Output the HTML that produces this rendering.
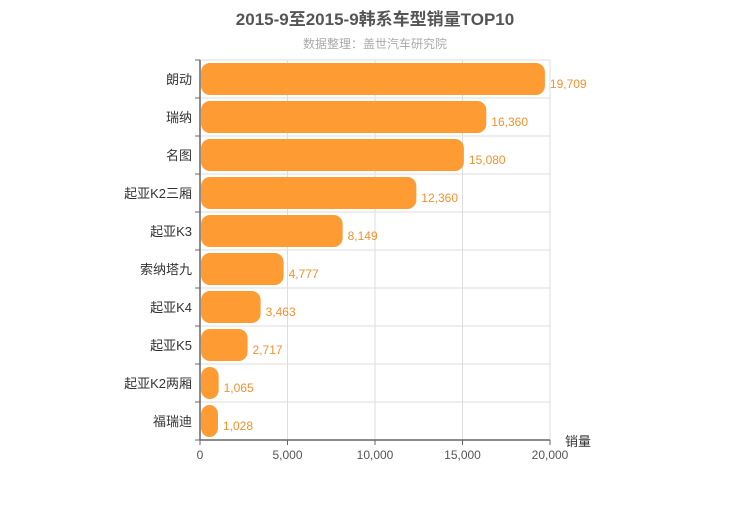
<!DOCTYPE html>
<html><head><meta charset="utf-8"><style>
body{margin:0;background:#fff}
svg{font-family:"Liberation Sans","Noto Sans CJK SC",sans-serif}
</style></head><body>
<svg id="chart" width="750" height="500" xmlns="http://www.w3.org/2000/svg">
<text x="375" y="25" text-anchor="middle" font-size="17" font-weight="bold" fill="#555">2015-9至2015-9韩系车型销量TOP10</text>
<text x="375" y="48" text-anchor="middle" font-size="12" fill="#aaa">数据整理：盖世汽车研究院</text>
<g id="grid"></g><g id="bars"></g><g id="axes"></g>
</svg>
<script>
const categories=["朗动","瑞纳","名图","起亚K2三厢","起亚K3","索纳塔九","起亚K4","起亚K5","起亚K2两厢","福瑞迪"];
const values=[19709,16360,15080,12360,8149,4777,3463,2717,1065,1028];
const ticks=[0,5000,10000,15000,20000];
const tickLabels=["0","5,000","10,000","15,000","20,000"];
const X0=200,X1=550,Y0=60,Y1=440,MAX=20000;
const x=v=>X0+(v/MAX)*(X1-X0);
const rowH=(Y1-Y0)/categories.length;
const y=i=>Y0+i*rowH;
const NS="http://www.w3.org/2000/svg";
function mk(t,a,p){const e=document.createElementNS(NS,t);for(const k in a)e.setAttribute(k,a[k]);p.appendChild(e);return e;}
const grid=document.getElementById('grid'),bars=document.getElementById('bars'),axes=document.getElementById('axes');
ticks.forEach((t,i)=>{
 const l=mk('line',{x1:x(t),x2:x(t),y1:Y0,y2:Y1,stroke:'#ddd'},grid);
 
 
 const tk=mk('line',{x1:x(t),x2:x(t),y1:Y1,y2:Y1+5,stroke:'#666'},axes);
 
 
 const tl=mk('text',{x:x(t),y:Y1+19,'text-anchor':'middle','font-size':12,fill:'#555'},axes);
 tl.textContent=tickLabels[i];
 
 
});
for(let i=0;i<=categories.length;i++){
 const l=mk('line',{x1:X0,x2:X1,y1:y(i),y2:y(i),stroke:'#ddd'},grid);
 
 
 const tk=mk('line',{x1:X0-5,x2:X0,y1:y(i),y2:y(i),stroke:'#666'},axes);
 
 
}
categories.forEach((c,i)=>{
 const cy=y(i)+rowH/2;
 const r=mk('rect',{x:X0+1,y:cy-16,width:Math.max(x(values[i])-X0-1,0),height:32,rx:9,ry:9,fill:'#ff9b33'},bars);
 
 
 const v=mk('text',{x:x(values[i])+5,y:cy+9,'font-size':12,fill:'#f0922f'},bars);
 v.textContent=values[i].toLocaleString('en-US');
 
 
 const cl=mk('text',{x:X0-8,y:cy+5,'text-anchor':'end','font-size':13,fill:'#333'},axes);
 cl.textContent=c;
 
 
});
const ya=mk('line',{x1:X0,x2:X0,y1:Y0,y2:Y1,stroke:'#666','stroke-width':1.5},axes);


const xa=mk('line',{x1:X0,x2:X1,y1:Y1,y2:Y1,stroke:'#666','stroke-width':1.5},axes);


const xt=mk('text',{x:565,y:446,'font-size':13,fill:'#333'},axes);
xt.textContent='销量';


</script>
</body></html>
